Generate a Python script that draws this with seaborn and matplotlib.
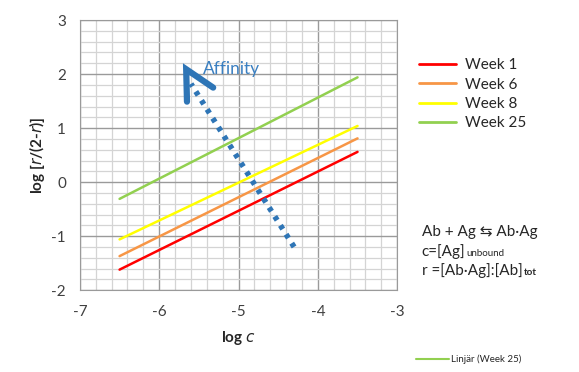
import numpy as np
import pandas as pd
import seaborn as sns
import matplotlib.pyplot as plt
from matplotlib.lines import Line2D

weeks = ['Week 1', 'Week 6', 'Week 8', 'Week 25']
log_c = [-6.5, -3.5]
week1 = [-1.62, 0.56]
week6 = [-1.37, 0.81]
week8 = [-1.06, 1.04]
week25 = [-0.31, 1.94]
colors = ['#ff0000', '#f79646', '#ffff00', '#92d050']

# affinity arrow (dotted shaft, open head)
arrow_x = [-4.3, -5.6]
arrow_y = [-1.2, 1.82]
head_x = [-5.65, -5.66, -5.32]
head_y = [1.49, 2.09, 1.75]

df = pd.DataFrame({
    'log c': log_c * 4,
    'y': week1 + week6 + week8 + week25,
    'week': [w for w in weeks for _ in log_c],
})

sns.set_style('white')
plt.rcParams['font.family'] = ['Lato', 'DejaVu Sans']
txt = '#262626'

fig = plt.figure(figsize=(5.79, 3.72), dpi=100)
ax = fig.add_axes([0.138, 0.22, 0.548, 0.726])

sns.lineplot(data=df, x='log c', y='y', hue='week', palette=colors,
             linewidth=1.8, ax=ax, legend=False)

ax.plot(arrow_x, arrow_y, color='#2e75b6', lw=4, linestyle=(0, (0.8, 1.1)),
        solid_capstyle='butt', dash_capstyle='butt')
ax.plot(head_x, head_y, color='#2e75b6', lw=4.5, solid_joinstyle='miter')
ax.text(-5.45, 2.1, 'Affinity', color='#3a7fc1', fontsize=12.5, va='center')

ax.set_xlim(-7, -3)
ax.set_ylim(-2, 3)
ax.set_xticks(np.arange(-7, -2.9, 1))
ax.set_yticks(np.arange(-2, 3.1, 1))
ax.set_xticks(np.arange(-7, -3, 0.2), minor=True)
ax.set_yticks(np.arange(-2, 3, 0.2), minor=True)
ax.grid(True, which='major', color='#9a9a9a', lw=1.0)
ax.grid(True, which='minor', color='#d4d4d4', lw=0.9)
ax.set_axisbelow(True)
for s in ax.spines.values():
    s.set_color('#9a9a9a')
ax.tick_params(axis='both', which='major', length=4, color='#9a9a9a',
               labelsize=11, labelcolor='#404040', direction='out')
ax.tick_params(which='minor', length=0)
ax.tick_params(axis='y', pad=6)
ax.tick_params(axis='x', pad=7)
ax.set_xticklabels(['-7', '-6', '-5', '-4', '-3'])
ax.set_yticklabels(['-2', '-1', '0', '1', '2', '3'])

ax.set_xlabel(r'log $\mathit{c}$', fontsize=11, fontweight='bold', color=txt, labelpad=7)
ax.set_ylabel(r'log [$\mathit{r}$/(2-$\mathit{r}$)]', fontsize=11, fontweight='bold',
              color=txt, labelpad=3)

handles = [Line2D([], [], color=c, lw=2) for c in colors]
fig.legend(handles, weeks, loc='upper left', bbox_to_anchor=(0.70, 0.88),
           frameon=False, fontsize=11, handlelength=2.4, handletextpad=0.6,
           labelspacing=0.35, labelcolor=txt)

fig.legend([Line2D([], [], color='#92d050', lw=1.5)], ['Linjär (Week 25)'],
           loc='upper left', bbox_to_anchor=(0.703, 0.07), frameon=False,
           fontsize=7, handlelength=3.4, handletextpad=0.2, labelcolor=txt)

fig.text(0.728, 0.376, 'Ab + Ag \u21c6 Ab\u2219Ag', fontsize=11, color=txt, va='center')
t1 = fig.text(0.728, 0.325, 'c=[Ag]', fontsize=11, color=txt, va='center')
t2 = fig.text(0.728, 0.274, 'r =[Ab\u2219Ag]:[Ab]', fontsize=11, color=txt, va='center')

fig.canvas.draw()
inv = fig.transFigure.inverted()
x1 = inv.transform(t1.get_window_extent().corners()[-1])[0]
x2 = inv.transform(t2.get_window_extent().corners()[-1])[0]
fig.text(x1 + 0.002, 0.318, 'unbound', fontsize=7, color=txt, va='center')
fig.text(x2 + 0.002, 0.267, 'tot', fontsize=7, color=txt, va='center', fontweight='bold')

fig.savefig('out.png', dpi=100)
